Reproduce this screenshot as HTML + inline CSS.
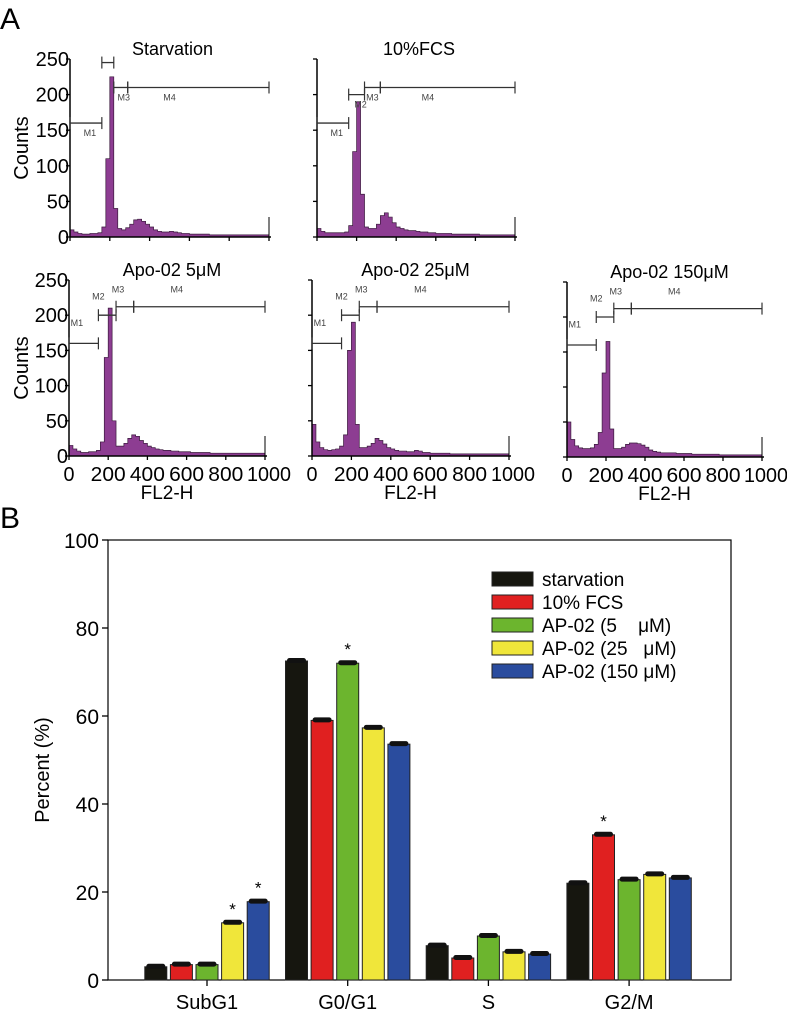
<!DOCTYPE html>
<html><head><meta charset="utf-8">
<style>
html,body{margin:0;padding:0;background:#fff;overflow:hidden;width:787px;height:1011px;}
svg{display:block;font-family:"Liberation Sans",sans-serif;}
</style></head>
<body>
<svg id="fig" width="787" height="1011" viewBox="0 0 787 1011" xmlns="http://www.w3.org/2000/svg">
<text x="0" y="29" font-size="30">A</text>
<text x="0" y="528" font-size="30">B</text>
<g id="histos"></g>
<g id="bars"></g>
</svg>
<script>
// ---------- Panel A histogram data (counts per 20-unit FL2-H bin, 0..1000) ----------
const hStarv = [10,7,5,4,4,5,5,6,14,110,225,40,12,10,13,18,24,25,22,18,14,10,8,7,7,8,7,6,5,5,4,4,4,4,4,3,3,3,3,3,3,3,3,3,3,3,3,3,3,3];
const hFcs = [12,8,6,6,6,6,6,7,16,120,190,60,14,12,12,18,30,34,28,20,14,12,10,9,9,8,7,7,6,6,5,5,5,5,4,4,4,4,4,4,4,3,3,3,3,3,3,3,3,3];
const h5 = [15,10,7,5,5,6,6,8,20,140,210,50,14,14,18,25,30,28,22,18,14,12,10,9,8,8,7,7,6,6,6,5,5,5,5,5,4,4,4,4,4,4,4,4,4,4,4,4,4,4];
const h25 = [45,20,12,9,8,9,10,14,30,150,190,45,12,12,14,18,25,22,17,12,10,8,7,7,6,6,8,7,5,5,4,4,4,4,4,3,3,3,3,3,3,3,3,3,3,3,3,3,3,3];
const h150 = [50,25,16,13,12,12,13,18,35,120,165,40,12,12,14,18,20,20,19,17,14,10,8,7,6,6,6,6,5,5,5,5,4,4,4,4,4,4,4,3,3,3,3,3,3,3,3,3,3,3];
const hTitles = ["Starvation","10%FCS","Apo-02 5\u03bcM","Apo-02 25\u03bcM","Apo-02 150\u03bcM"];
const yTicks = [0,50,100,150,200,250];
const xTicks = [0,200,400,600,800,1000];

const NS="http://www.w3.org/2000/svg";
function mk(tag, attrs, parent){const e=document.createElementNS(NS,tag);for(const k in attrs)e.setAttribute(k,attrs[k]);parent.appendChild(e);return e;}

function histo(g, data, title, x0, x1, yb, yt, showY, showX, gates){
  const sx=v=>x0+(x1-x0)*v/1000, sy=v=>yb-(yb-yt)*v/250;
  let d=`M${sx(0)},${sy(0)}`;
  data.forEach((c,i)=>{d+=` L${sx(i*20)},${sy(c)} L${sx(i*20+20)},${sy(c)}`;});
  d+=` L${sx(1000)},${sy(0)} Z`;
  const p=mk('path',{d,fill:'#8d3d92',stroke:'#3a1a3c','stroke-width':0.7},g);
  
  
  mk('line',{x1:x0,y1:yb,x2:x0,y2:yt,stroke:'#000','stroke-width':1.5},g);
  mk('line',{x1:x0,y1:yb,x2:x1+2,y2:yb,stroke:'#000','stroke-width':1.5},g);
  mk('line',{x1:sx(1000),y1:yb,x2:sx(1000),y2:yb-20,stroke:'#000','stroke-width':1},g);
  yTicks.forEach(t=>{
    mk('line',{x1:x0-4,y1:sy(t),x2:x0,y2:sy(t),stroke:'#000','stroke-width':1.3},g);
    if(showY){const tx=mk('text',{x:x0-1,y:sy(t)+7,'font-size':20,'text-anchor':'end'},g);tx.textContent=t;
      
      }
  });
  xTicks.forEach(t=>{
    mk('line',{x1:sx(t),y1:yb,x2:sx(t),y2:yb+4,stroke:'#000','stroke-width':1.3},g);
    if(showX){const tx=mk('text',{x:t===1000?sx(t)+4:sx(t),y:yb+25,'font-size':20,'text-anchor':'middle',textLength:t===0?11:(t===1000?44:35),lengthAdjust:'spacingAndGlyphs'},g);tx.textContent=t;
      
      }
  });
  if(showX){const tx=mk('text',{x:(x0+x1)/2,y:yb+43,'font-size':19,'text-anchor':'middle'},g);tx.textContent='FL2-H';
    
    }
  const tt=mk('text',{x:(x0+x1)/2+(showX?5:3),y:yt-4,'font-size':18,'text-anchor':'middle'},g);
  tt.textContent=title;
  
  
  gates.forEach(gt=>{
    const [a,b,c,lab,lx,ly]=gt; const y=sy(c);
    mk('line',{x1:sx(a),y1:y,x2:sx(b),y2:y,stroke:'#333','stroke-width':1.3},g);
    mk('line',{x1:sx(a),y1:y-6,x2:sx(a),y2:y+6,stroke:'#333','stroke-width':1.2},g);
    mk('line',{x1:sx(b),y1:y-6,x2:sx(b),y2:y+6,stroke:'#333','stroke-width':1.2},g);
    if(lab){const tx=mk('text',{x:sx(lx),y:ly===undefined?y+13:sy(ly),'font-size':9,fill:'#444','text-anchor':'middle'},g);tx.textContent=lab;
      
      }
  });
}
const HG=document.getElementById('histos');
const topGatesS=[[0,160,160,'M1',100],[160,220,245,'',0],[220,290,210,'M3',270],[290,1000,210,'M4',500]];
const topGatesF=[[0,160,160,'M1',100],[160,240,200,'M2',220],[240,320,210,'M3',280],[320,1000,210,'M4',560]];
const botGates=[[0,150,160,'M1',40,185],[150,240,200,'M2',150,222],[240,330,212,'M3',250,232],[330,1000,212,'M4',550,232]];
const panels=[
 [hStarv,0,70,269,237,59,true,false,topGatesS],
 [hFcs,1,317,515,237,59,false,false,topGatesF],
 [h5,2,69,265,456,280,true,true,botGates],
 [h25,3,312,509,456,280,false,true,botGates],
 [h150,4,567,762,457,282,false,true,botGates]];
panels.forEach(p=>{
  const g=mk('g',{},HG);
  
  
  histo(g,p[0],hTitles[p[1]],p[2],p[3],p[4],p[5],p[6],p[7],p[8]);
});
[[22,148],[22,368]].forEach(c=>{
  const t=mk('text',{x:0,y:0,'font-size':20,'text-anchor':'middle',transform:`translate(${c[0]+6},${c[1]}) rotate(-90)`},HG);
  t.textContent='Counts';
  
  
});

// ---------- Panel B bar chart data ----------
const categories=["SubG1","G0/G1","S","G2/M"];
const seriesNames=["starvation","10% FCS","AP-02 (5    \u03bcM)","AP-02 (25   \u03bcM)","AP-02 (150 \u03bcM)"];
const seriesColors=["#16160f","#e02020","#6cb52e","#f0e63a","#2a4c9e"];
const vStarv=[3.0,72.5,7.8,22.0];
const vFcs=[3.5,59.0,5.0,33.0];
const v5=[3.5,72.0,10.0,22.8];
const v25=[13.0,57.3,6.4,24.0];
const v150=[17.8,53.6,5.9,23.2];
const seriesVals=[vStarv,vFcs,v5,v25,v150];
const stars=[[0,3],[0,4],[1,2],[3,1]]; // [category, series]
const bTicks=[0,20,40,60,80,100];

const BG=document.getElementById('bars');
const L=108,R=731,T=540,B=980;
const by=v=>B-(B-T)*v/100;
const gx=i=>207+i*140.7; // group center
const bw=22, step=25.6;
const bx=(i,s)=>gx(i)+(s-2)*step-bw/2;
const frame=mk('rect',{x:L,y:T,width:R-L,height:B-T,fill:'none',stroke:'#000','stroke-width':1.2},BG);


bTicks.forEach(t=>{
  mk('line',{x1:L-6,y1:by(t),x2:L,y2:by(t),stroke:'#000','stroke-width':1.3},BG);
  const tx=mk('text',{x:L-9,y:by(t)+8,'font-size':21,'text-anchor':'end'},BG);
  tx.textContent=t;
  
  
});
categories.forEach((c,i)=>{
  mk('line',{x1:gx(i),y1:B,x2:gx(i),y2:B+6,stroke:'#000','stroke-width':1.3},BG);
  const tx=mk('text',{x:gx(i),y:B+29,'font-size':20,'text-anchor':'middle'},BG);
  tx.textContent=c;
  
  
});
const yt=mk('text',{x:0,y:0,'font-size':20,'text-anchor':'middle',transform:'translate(49,770) rotate(-90)'},BG);
yt.textContent='Percent (%)';


seriesVals.forEach((vals,s)=>{
  vals.forEach((v,i)=>{
    const r=mk('rect',{x:bx(i,s),y:by(v),width:bw,height:B-by(v),fill:seriesColors[s],stroke:'#222','stroke-width':1},BG);
    
    
    const cap=mk('rect',{x:bx(i,s)+1.5,y:by(v)-3,width:bw-3,height:5,rx:2.5,fill:'#111'},BG);
    
    
  });
});
stars.forEach(st=>{
  const v=seriesVals[st[1]][st[0]];
  const tx=mk('text',{x:bx(st[0],st[1])+bw/2,y:by(v)-8,'font-size':17,'text-anchor':'middle'},BG);
  tx.textContent='*';
  
  
});
seriesNames.forEach((n,s)=>{
  const y=579+s*23;
  const sw=mk('rect',{x:492,y:y-7,width:41,height:14,fill:seriesColors[s],stroke:'#222','stroke-width':1},BG);
  
  
  const tx=mk('text',{x:542,y:y+7,'font-size':19},BG);
  tx.setAttribute('style','white-space:pre');
  tx.textContent=n;
  
  
});
</script>
</body></html>
